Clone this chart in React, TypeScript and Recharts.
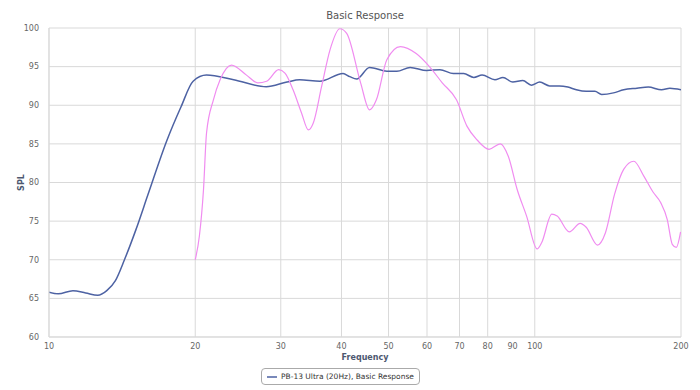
import { LineChart, Line, XAxis, YAxis, CartesianGrid, Legend } from "recharts"

const freqTicks = [10, 20, 30, 40, 50, 60, 70, 80, 90, 100, 200]
const splTicks = [60, 65, 70, 75, 80, 85, 90, 95, 100]

const ultraFreq = [
  10, 10.45, 11.2, 11.9, 12.6, 13.15, 13.7, 14.3, 15.1, 16.0, 17.5, 18.7, 19.8, 21.1, 24, 28,
  30.9, 32.8, 36.1, 40.3, 41.6, 43, 45.7, 49.6, 52, 55.4, 59.9, 63.8, 68, 71.4, 74.9, 77.9, 82.8,
  86, 90.1, 94.5, 98.4, 102.4, 107.3, 112.4, 117, 121.8, 127.6, 133, 137.3, 145.2, 152.4, 162.3,
  171.3, 182.4, 189.7, 200,
]
const ultraSpl = [
  65.8, 65.6, 66.0, 65.7, 65.4, 66.0, 67.3, 70.0, 73.9, 78.5, 85.5, 89.8, 93.1, 93.9, 93.3, 92.4,
  93.0, 93.3, 93.1, 94.1, 93.7, 93.4, 94.9, 94.4, 94.4, 94.9, 94.5, 94.6, 94.1, 94.1, 93.6, 93.9,
  93.3, 93.6, 93.0, 93.2, 92.6, 93.0, 92.5, 92.5, 92.35, 92.0, 91.8, 91.8, 91.4, 91.6, 92.0, 92.2,
  92.35, 92.0, 92.2, 92.0,
]

const otherFreq = [
  20, 20.4, 20.8, 21.1, 21.8, 22.5, 23.75, 25.5, 26.9, 28.05, 29.7, 30.6, 31.8, 33.1, 34.2, 35,
  36.4, 37.9, 39.7, 41, 43.8, 45.7, 47.2, 49.6, 52.9, 57, 60.7, 64.5, 69, 72.5, 76.1, 80.5, 84.9,
  88.2, 92, 96.2, 101.1, 103.3, 108.4, 111.2, 117.8, 124, 127.6, 134.6, 139.8, 146, 152.4, 159.9,
  167.8, 175, 181.6, 187.4, 191.9, 195.6, 199.6,
]
const otherSpl = [
  70.0, 73.1, 79.1, 86.4, 90.7, 93.3, 95.2, 93.9, 92.9, 93.1, 94.6, 94.15, 92.0, 89.0, 86.8, 87.7,
  92.4, 97.2, 99.9, 99.3, 92.9, 89.4, 90.7, 95.9, 97.6, 96.7, 95.0, 92.9, 90.7, 87.3, 85.5, 84.3,
  85.0, 83.4, 79.1, 75.65, 71.4, 72.2, 75.9, 75.65, 73.6, 74.7, 74.2, 71.9, 73.5, 78.5, 81.7, 82.75,
  80.8, 78.8, 77.4, 75.2, 72.0, 71.6, 73.6,
]

const ultraData = ultraFreq.map((f, i) => ({ freq: f, spl: ultraSpl[i] }))
const otherData = otherFreq.map((f, i) => ({ freq: f, spl: otherSpl[i] }))

const FONT = "'DejaVu Sans', Verdana, sans-serif"
const gridColor = "#d9d9d9"
const ultraName = "PB-13 Ultra (20Hz), Basic Response"

function LegendBox(props: any) {
  const item = (props.payload || []).find((p: any) => p.value === ultraName && p.type !== "none")
  if (!item) return null
  return (
    <div style={{ display: "flex", justifyContent: "center", paddingTop: 7 }}>
      <div
        style={{
          display: "flex",
          alignItems: "center",
          border: "1px solid #aaa",
          borderRadius: 4,
          height: 15,
          padding: "0 5px",
          fontFamily: FONT,
          fontSize: 7.5,
          color: "#333",
        }}
      >
        <svg width={10} height={4} style={{ marginRight: 4 }}>
          <line x1={0} y1={2} x2={10} y2={2} stroke={item.color} strokeWidth={1.5} />
        </svg>
        {item.value}
      </div>
    </div>
  )
}

function SplLabel(props: any) {
  const vb = props.viewBox
  const cx = 21
  const cy = vb.y + vb.height / 2
  return (
    <text
      x={cx}
      y={cy}
      transform={`rotate(-90, ${cx}, ${cy})`}
      textAnchor="middle"
      dominantBaseline="central"
      fontFamily={FONT}
      fontSize={8}
      fontWeight="bold"
      fill="#4d5870"
    >
      SPL
    </text>
  )
}

export default function App() {
  return (
    <div style={{ position: "absolute", left: 0, top: 0, width: 700, height: 390, background: "#fff" }}>
      <div
        style={{
          position: "absolute",
          top: 10,
          left: 49,
          width: 632,
          textAlign: "center",
          fontFamily: FONT,
          fontSize: 10,
          color: "#555",
        }}
      >
        Basic Response
      </div>
      <LineChart width={700} height={390} margin={{ top: 28, right: 19, left: 0, bottom: 5 }}>
        <CartesianGrid stroke={gridColor} strokeWidth={1} />
        <XAxis
          dataKey="freq"
          type="number"
          scale="log"
          domain={[10, 200]}
          ticks={freqTicks}
          allowDataOverflow
          height={24}
          tickLine={false}
          axisLine={{ stroke: gridColor }}
          tick={{ fontSize: 8, fill: "#666", fontFamily: FONT }}
          tickMargin={0}
          label={{
            value: "Frequency",
            position: "insideBottom",
            offset: 1,
            fontSize: 8,
            fontWeight: "bold",
            fill: "#4d5870",
            fontFamily: FONT,
          }}
        />
        <YAxis
          dataKey="spl"
          type="number"
          domain={[60, 100]}
          ticks={splTicks}
          width={49}
          tickLine={false}
          axisLine={{ stroke: gridColor }}
          tick={{ fontSize: 8, fill: "#666", fontFamily: FONT }}
          tickMargin={4}
          label={<SplLabel />}
        />
        <Legend verticalAlign="bottom" content={<LegendBox />} />
        <Line
          data={ultraData}
          dataKey="spl"
          name={ultraName}
          type="monotone"
          stroke="#4d62a3"
          strokeWidth={1.5}
          dot={false}
          activeDot={false}
          isAnimationActive={false}
        />
        <Line
          data={otherData}
          dataKey="spl"
          name="Basic Response 2"
          legendType="none"
          type="monotone"
          stroke="#f08cf0"
          strokeWidth={1.2}
          dot={false}
          activeDot={false}
          isAnimationActive={false}
        />
      </LineChart>
    </div>
  )
}
